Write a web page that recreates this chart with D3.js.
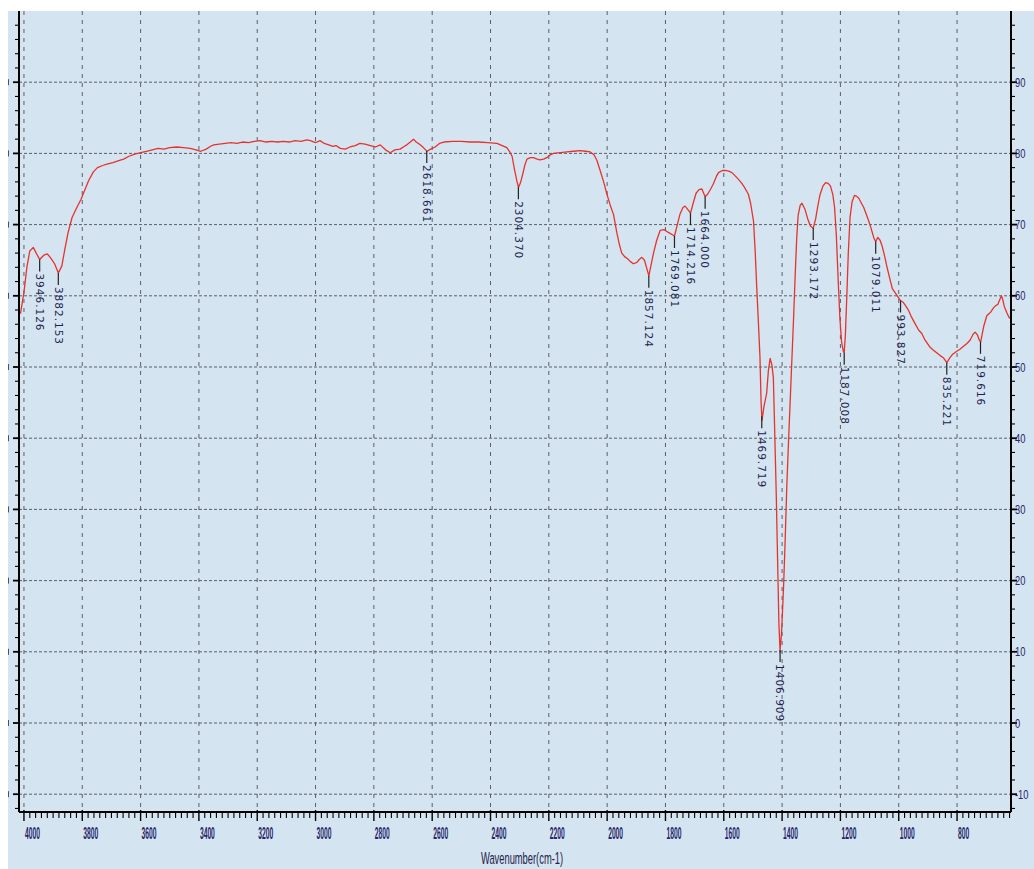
<!DOCTYPE html>
<html><head><meta charset="utf-8">
<script src="https://cdn.jsdelivr.net/npm/d3@7"></script>
<style>body{margin:0;background:#fff;} svg{display:block}</style>
</head><body>
<svg id="c" width="1034" height="869"></svg>
<script>
// ---- data ----
const wavenumbers = [4012,4000,3990,3980,3968,3958,3946,3932,3920,3908,3895,3882,3870,3860,3848,3835,3820,3805,3790,3778,3762,3748,3730,3715,3695,3675,3658,3640,3620,3600,3580,3560,3540,3520,3500,3475,3453,3430,3410,3394,3375,3360,3349,3330,3310,3290,3270,3250,3230,3210,3190,3170,3150,3130,3110,3090,3070,3050,3030,3018,3000,2985,2970,2955,2940,2930,2915,2898,2882,2864,2848,2830,2812,2795,2778,2760,2744,2728,2710,2695,2687,2675,2664,2655,2647,2635,2625,2618,2605,2590,2575,2560,2530,2500,2470,2440,2410,2378,2360,2344,2334,2326,2318,2310,2304,2297,2290,2282,2275,2263,2253,2240,2230,2218,2207,2195,2184,2160,2138,2115,2093,2075,2058,2045,2035,2024,2012,2001,1990,1978,1967,1958,1950,1940,1930,1920,1910,1898,1890,1881,1872,1865,1857,1850,1841,1830,1818,1805,1790,1769,1758,1750,1740,1733,1725,1714,1705,1695,1685,1675,1664,1655,1645,1636,1625,1618,1605,1595,1583,1572,1555,1540,1530,1516,1508,1498,1492,1487,1481,1476,1472,1469,1462,1453,1447,1441,1435,1430,1426,1420,1415,1411,1407,1402,1395,1390,1384,1378,1373,1367,1361,1355,1350,1345,1338,1332,1322,1312,1303,1293,1285,1278,1270,1260,1251,1242,1234,1226,1220,1214,1208,1202,1196,1190,1187,1183,1178,1173,1167,1160,1152,1145,1137,1128,1120,1110,1103,1095,1086,1079,1072,1064,1057,1048,1040,1030,1022,1012,1005,997,993,985,975,967,956,944,932,921,910,900,893,882,870,858,847,840,835,826,815,801,790,778,766,755,745,738,730,724,719,713,708,698,690,683,675,668,660,654,648,644,638,630,622,617];
const transmittance = [57.5,60.5,64.0,66.3,66.8,66.0,65.1,65.7,65.9,65.3,64.5,63.2,64.2,66.5,69.0,71.0,72.3,73.5,75.0,76.2,77.4,78.0,78.3,78.5,78.7,79.0,79.2,79.6,79.9,80.1,80.3,80.5,80.7,80.6,80.8,80.9,80.8,80.7,80.5,80.3,80.6,81.0,81.2,81.3,81.4,81.5,81.4,81.6,81.5,81.7,81.8,81.6,81.7,81.6,81.7,81.6,81.8,81.7,81.9,81.8,81.5,81.8,81.4,81.2,81.0,81.1,80.7,80.6,80.9,81.1,81.4,81.3,81.1,80.9,81.2,80.5,80.1,80.5,80.6,81.0,81.2,81.6,82.0,81.6,81.4,81.0,80.6,80.3,80.6,80.9,81.4,81.6,81.7,81.7,81.6,81.6,81.5,81.4,81.1,80.8,80.2,79.6,77.8,76.2,75.2,75.9,77.0,78.4,79.2,79.4,79.4,79.2,79.1,79.2,79.4,79.8,80.0,80.1,80.2,80.3,80.4,80.3,80.2,79.8,79.0,77.6,76.0,74.3,72.8,71.4,68.9,67.2,66.0,65.5,65.2,64.8,64.5,64.7,65.1,65.4,65.0,64.0,62.8,64.2,66.0,67.8,69.2,69.3,68.9,68.4,70.2,71.5,72.4,72.6,72.2,71.6,73.0,74.4,74.9,75.0,73.9,74.3,75.0,75.7,76.8,77.3,77.6,77.6,77.5,77.3,76.6,75.9,75.3,74.3,73.0,70.5,66.0,61.2,56.0,51.5,45.0,42.5,44.5,46.3,49.5,51.2,50.3,48.5,42.0,32.0,22.0,14.0,10.2,12.5,19.1,25.0,33.1,39.5,44.5,50.5,56.5,63.0,68.0,71.3,72.7,73.0,72.2,70.8,69.8,69.5,70.8,72.5,74.2,75.4,75.9,75.8,75.4,74.2,72.4,68.5,62.5,57.0,53.5,52.2,52.0,54.5,60.0,66.0,71.0,73.2,74.1,74.0,73.7,73.0,72.4,71.3,70.5,69.5,68.2,67.6,68.2,67.8,67.0,65.5,64.0,62.3,61.0,60.4,60.0,59.5,59.3,59.1,58.5,58.0,57.0,56.1,55.2,54.7,53.8,53.2,52.8,52.4,52.0,51.6,51.3,50.9,50.6,51.2,51.8,52.2,52.5,52.9,53.3,53.8,54.6,54.9,54.5,53.8,53.5,54.8,55.8,57.2,57.5,57.8,58.3,58.6,58.8,59.4,60.0,59.6,58.5,57.7,57.0,56.8];
const peakWavenumbers = [3946.126,3882.153,2618.661,2304.370,1857.124,1769.081,1714.216,1664.000,1469.719,1406.909,1293.172,1187.008,1079.011,993.827,835.221,719.616];
const peakLabels = ["3946.126","3882.153","2618.661","2304.370","1857.124","1769.081","1714.216","1664.000","1469.719","1406.909","1293.172","1187.008","1079.011","993.827","835.221","719.616"];
const xTickValues = [4000,3800,3600,3400,3200,3000,2800,2600,2400,2200,2000,1800,1600,1400,1200,1000,800];
const yTickValues = [-10,0,10,20,30,40,50,60,70,80,90];
const xTitle = "Wavenumber(cm-1)";

// ---- layout ----
const svg = d3.select("#c");
const L = 19, R = 1011, T = 11, B = 812;
const x = d3.scaleLinear().domain([4017, 615]).range([L, R]);
const y = d3.scaleLinear().domain([-12.5, 100]).range([B, T]);
const bg = "#d5e4f1";
const labelColor = "#26266a";

svg.append("rect").attr("x", 8).attr("y", T).attr("width", 1034 - 8).attr("height", 869 - T).attr("fill", bg);

svg.append("defs").append("clipPath").attr("id", "plotclip")
  .append("rect").attr("x", L).attr("y", T).attr("width", R - L).attr("height", B - T);

// grid
const grid = svg.append("g");
grid.selectAll("line.v").data(xTickValues).join("line")
  .attr("x1", d => x(d)).attr("x2", d => x(d)).attr("y1", T).attr("y2", B)
  .attr("stroke", "#5a5f66").attr("stroke-width", 1).attr("stroke-dasharray", "4,5");
grid.selectAll("line.h").data(yTickValues).join("line")
  .attr("x1", L).attr("x2", R).attr("y1", d => y(d)).attr("y2", d => y(d))
  .attr("stroke", "#5a5f66").attr("stroke-width", 1).attr("stroke-dasharray", "3,2");

// curve
const data = wavenumbers.map((w, i) => [w, transmittance[i]]);
svg.append("path").datum(data)
  .attr("clip-path", "url(#plotclip)")
  .attr("fill", "none").attr("stroke", "#e5332c").attr("stroke-width", 1.3)
  .attr("stroke-linejoin", "round")
  .attr("d", d3.line().x(d => x(d[0])).y(d => y(d[1])));

function valueAt(w) {
  for (let i = 0; i < data.length - 1; i++) {
    const a = data[i], b = data[i + 1];
    if (w <= a[0] && w >= b[0]) {
      const t = (a[0] - w) / (a[0] - b[0]);
      return a[1] + t * (b[1] - a[1]);
    }
  }
  return data[data.length - 1][1];
}

// peak labels
const pk = svg.append("g");
peakWavenumbers.forEach((w, i) => {
  const px = x(w), py = y(valueAt(w));
  pk.append("line").attr("x1", px).attr("x2", px).attr("y1", py).attr("y2", py + 12)
    .attr("stroke", "#222").attr("stroke-width", 1.2);
  pk.append("text")
    .attr("transform", `translate(${px},${py + 14}) rotate(90)`)
    .attr("dy", "0.35em")
    .attr("font-family", "DejaVu Sans, sans-serif").attr("font-size", 10.5)
    .attr("letter-spacing", 1)
    .attr("fill", "#1e1e50")
    .text(peakLabels[i]);
});

// axes lines
const ax = svg.append("g");
ax.append("line").attr("x1", L).attr("x2", R).attr("y1", B).attr("y2", B).attr("stroke", "#000").attr("stroke-width", 2);
ax.append("line").attr("x1", L).attr("x2", L).attr("y1", T).attr("y2", B).attr("stroke", "#000").attr("stroke-width", 2);
ax.append("line").attr("x1", R).attr("x2", R).attr("y1", T).attr("y2", B).attr("stroke", "#000").attr("stroke-width", 2);

// x ticks
const xMinor = d3.range(620, 4001, 20).filter(v => x(v) > L + 1 && x(v) < R - 1);
ax.selectAll("line.xt").data(xMinor).join("line")
  .attr("x1", d => x(d)).attr("x2", d => x(d))
  .attr("y1", d => d % 200 === 0 ? B - 2 : B)
  .attr("y2", d => d % 200 === 0 ? B + 9 : B + 6)
  .attr("stroke", "#000").attr("stroke-width", d => d % 200 === 0 ? 1.4 : 1.1);

// y ticks (left and right)
const yMinor = d3.range(-12, 101, 2).filter(v => y(v) > T && y(v) < B - 1);
[[L, -1], [R, 1]].forEach(([ox, dir]) => {
  ax.selectAll(null).data(yMinor).join("line")
    .attr("x1", ox).attr("x2", d => ox + dir * (d % 10 === 0 ? 6 : 4))
    .attr("y1", d => y(d)).attr("y2", d => y(d))
    .attr("stroke", "#000").attr("stroke-width", d => d % 10 === 0 ? 1.8 : 1.1);
});

// remnants of the left labels at the image edge
ax.selectAll("line.lr").data(yTickValues).join("line")
  .attr("x1", 8.5).attr("x2", 8.5)
  .attr("y1", d => y(d) - 3).attr("y2", d => y(d) + 3)
  .attr("stroke", labelColor).attr("stroke-width", 1).attr("opacity", 0.8);

// x tick labels
ax.selectAll("text.xl").data(xTickValues).join("text")
  .attr("transform", d => `translate(${x(d) + 1},839) scale(0.42,1)`)
  .attr("font-family", "Liberation Sans, Arial, sans-serif").attr("font-size", 16)
  .attr("font-weight", "bold")
  .attr("fill", labelColor).text(d => d);

// right y labels
ax.selectAll("text.yl").data(yTickValues).join("text")
  .attr("transform", d => `translate(${R + 4},${y(d)}) scale(0.72,1)`)
  .attr("dy", "0.35em")
  .attr("font-family", "Liberation Sans, Arial, sans-serif").attr("font-size", 13)
  .attr("fill", labelColor).text(d => d);

// title
svg.append("text")
  .attr("transform", `translate(522,864) scale(0.55,1)`)
  .attr("text-anchor", "middle")
  .attr("font-family", "Liberation Sans, Arial, sans-serif").attr("font-size", 17)
  .attr("fill", "#22224a").text(xTitle);
</script>
</body></html>
